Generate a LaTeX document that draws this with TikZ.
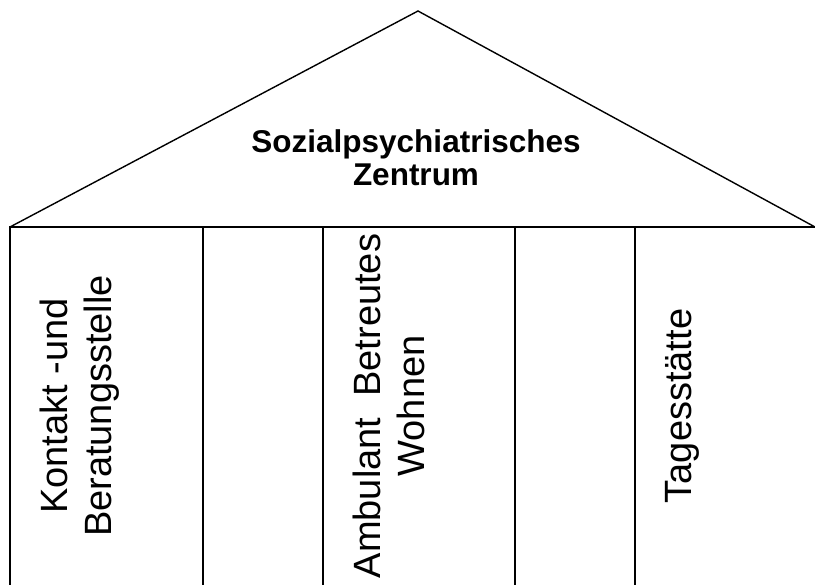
\documentclass[tikz,border=0pt]{standalone}
\usepackage{fontspec}
\setmainfont{Liberation Sans}
\tikzset{
    saeule/.style={rotate=90, anchor=north, inner sep=0pt, align=center, font=\fontsize{38}{44}\selectfont},
    dach/.style={line width=1.4pt, line join=miter},
}

\begin{document}
\begin{tikzpicture}[x=1pt,y=-1pt]
            \useasboundingbox (0,0) rectangle (815,585);
            \draw[dach] (10,227)--(418,11)--(815,227);
            \draw[line width=2.2pt] (9,227)--(815,227);
            \draw[line width=2pt] (10,226)--(10,585);
            \draw[line width=1.4pt] (203,227)--(203,585);
            \draw[line width=1.4pt] (323,227)--(323,585);
            \draw[line width=1.4pt] (515,227)--(515,585);
            \draw[line width=1.4pt] (635,227)--(635,585);
            \node[align=center, font=\fontsize{31.5}{33}\selectfont\bfseries] (zentrum) at (416,158) {Sozialpsychiatrisches\\Zentrum};
            \node[saeule] (beratung) at (40,406) {Kontakt -und\\Beratungsstelle};
            \node[saeule] (wohnen) at (353,406) {Ambulant\ \ Betreutes\\Wohnen};
            \node[saeule] (tagesstaette) at (665,406) {Tagesstätte};
        \end{tikzpicture}
\end{document}
